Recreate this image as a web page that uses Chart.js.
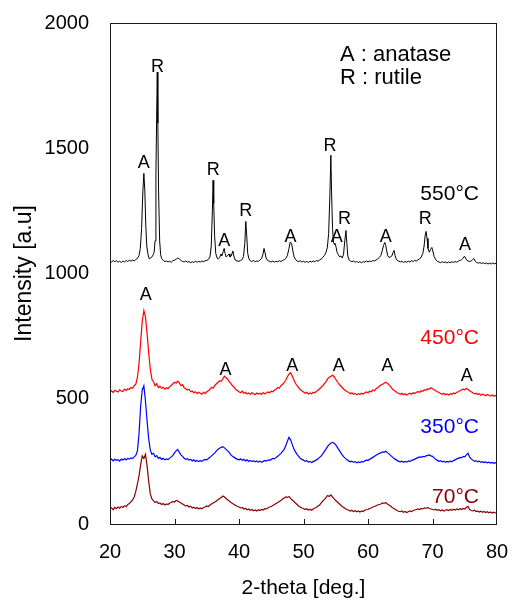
<!DOCTYPE html>
<html>
<head>
<meta charset="utf-8">
<script src="https://cdn.jsdelivr.net/npm/chart.js@4.4.0/dist/chart.umd.min.js"></script>
<style>
  html, body { margin: 0; padding: 0; background: #fff; overflow: hidden; }
  #xrd { display: block; }
</style>
</head>
<body>
<canvas id="xrd" width="522" height="603"></canvas>
<script>
// 2-theta sampling of the three low-temperature scans
const THETA_START = 20;
const THETA_STEP = 0.25;

// 450 °C scan, one value per 0.25 deg from 20 to 80
const scan450 = [
  528,532,525,534,530,527,536,531,529,538,533,540,537,545,542,552,558,585,640,725,
  810,852,826,760,682,618,578,568,552,560,545,550,541,546,538,544,540,548,553,560,
  566,562,570,563,552,556,544,540,535,538,528,531,524,528,520,526,522,518,526,521,
  528,532,538,546,542,553,560,566,572,570,580,590,584,578,568,560,552,546,537,533,
  528,524,530,522,526,519,523,518,524,520,516,523,519,522,517,525,520,523,527,524,
  530,528,535,538,545,542,552,558,564,574,588,598,604,592,576,562,552,544,536,532,
  527,522,526,519,523,520,526,524,530,534,540,546,552,560,568,580,586,590,594,588,
  578,568,558,552,545,538,533,528,526,520,524,518,521,516,520,518,522,519,524,527,
  524,530,528,535,532,540,544,550,555,558,562,566,562,556,548,540,534,530,524,522,
  518,522,516,520,515,519,522,518,524,521,526,528,526,532,530,536,534,540,538,544,
  540,536,532,528,525,521,518,522,516,519,515,520,518,523,520,526,528,532,535,538,
  536,542,537,532,528,524,520,522,517,520,514,518,516,512,517,514,511,515,510,513,
  510
];

// 350 °C scan
const scan350 = [
  255,259,252,258,254,257,251,259,255,261,256,262,259,264,262,268,274,292,360,470,
  535,552,490,410,340,295,278,282,268,273,262,266,258,262,256,260,257,263,268,274,
  284,292,298,286,276,270,262,258,261,255,258,252,256,250,254,249,253,250,255,258,
  256,262,266,272,278,284,292,298,302,306,309,304,298,292,285,276,270,266,262,258,
  256,260,254,258,252,256,250,254,249,253,248,252,247,251,246,250,254,251,256,254,
  258,262,260,266,270,276,282,290,298,312,330,346,336,318,300,288,278,270,262,258,
  255,250,253,247,250,245,249,252,256,260,266,272,280,290,300,310,318,322,326,322,
  316,306,296,286,276,268,262,256,252,248,251,246,249,244,248,245,250,247,252,255,
  254,258,262,266,270,274,278,282,284,288,286,290,285,280,274,268,262,258,254,250,
  248,251,246,250,247,252,249,254,256,259,262,265,268,266,270,268,272,274,276,272,
  270,264,258,254,250,253,248,251,246,250,247,252,248,253,256,260,262,266,264,270,
  268,276,282,268,260,255,250,253,248,251,246,249,245,248,244,247,243,246,242,245,
  243
];

// 70 °C scan
const scan70 = [
  60,64,57,66,61,68,63,70,66,73,69,78,82,88,96,108,130,160,192,236,
  272,262,278,232,170,120,100,92,86,90,82,84,78,82,76,80,78,84,86,90,
  88,94,92,88,84,80,76,72,74,68,71,64,67,62,66,60,64,61,66,68,
  72,70,76,80,84,88,92,98,102,106,112,108,102,96,92,86,82,78,74,70,
  68,64,66,60,63,57,60,55,58,53,56,52,57,54,58,56,61,60,65,68,
  70,74,78,82,86,90,94,100,104,108,106,110,102,96,90,84,78,72,68,64,
  62,58,61,56,59,55,60,64,66,72,76,84,92,98,106,114,110,116,108,100,
  94,88,82,76,70,66,61,58,55,52,55,50,53,49,52,48,52,50,55,57,
  58,62,64,68,70,73,76,78,80,84,82,86,80,76,72,66,62,58,54,51,
  49,52,47,50,46,49,52,50,54,56,58,60,58,62,60,64,62,66,62,60,
  58,56,59,55,57,53,56,52,55,57,54,58,55,59,56,60,57,61,58,62,
  60,66,70,58,54,52,55,50,52,48,51,47,50,46,49,45,48,44,47,44,
  45
];

// 550 °C scan: [2-theta, intensity], sampled finer across the sharp rutile peaks
const scan550 = [
  [20,1050],[20.25,1046],[20.5,1052],[20.75,1047],[21,1051],[21.25,1045],[21.5,1049],[21.75,1044],
  [22,1050],[22.25,1046],[22.5,1052],[22.75,1048],[23,1053],[23.25,1049],[23.5,1054],[23.75,1050],
  [24,1056],[24.25,1060],[24.5,1072],[24.7,1100],[24.9,1180],[25.1,1330],[25.25,1400],[25.4,1330],
  [25.55,1190],[25.7,1110],[25.9,1075],[26.1,1058],[26.3,1062],[26.5,1066],[26.7,1075],[26.85,1085],
  [26.98,1130],[27.12,1400],[27.23,1620],[27.33,1804],[27.42,1600],[27.53,1330],[27.7,1130],[27.85,1075],
  [28,1060],[28.25,1052],[28.5,1048],[28.75,1050],[29,1046],[29.25,1049],[29.5,1045],[29.75,1051],
  [30,1053],[30.25,1057],[30.5,1062],[30.75,1058],[31,1052],[31.25,1048],[31.5,1046],[31.75,1050],
  [32,1045],[32.25,1048],[32.5,1043],[32.75,1047],[33,1044],[33.25,1049],[33.5,1045],[33.75,1048],
  [34,1046],[34.25,1050],[34.5,1047],[34.75,1051],[35,1052],[35.25,1056],[35.5,1066],[35.7,1110],
  [35.87,1250],[35.98,1372],[36.08,1280],[36.22,1150],[36.4,1080],[36.6,1062],[36.8,1058],[37,1064],
  [37.2,1078],[37.35,1070],[37.55,1088],[37.7,1100],[37.85,1080],[38,1066],[38.2,1070],[38.45,1078],
  [38.6,1066],[38.8,1070],[39.05,1090],[39.2,1070],[39.4,1054],[39.7,1050],[40,1049],[40.25,1052],
  [40.5,1056],[40.7,1068],[40.9,1120],[41.05,1208],[41.2,1150],[41.35,1080],[41.55,1058],[41.8,1050],
  [42,1048],[42.25,1052],[42.5,1047],[42.75,1050],[43,1048],[43.25,1054],[43.5,1060],[43.7,1075],
  [43.88,1100],[44.05,1082],[44.2,1062],[44.45,1052],[44.7,1049],[45,1046],[45.25,1050],[45.5,1045],
  [45.75,1049],[46,1047],[46.25,1051],[46.5,1048],[46.75,1052],[47,1055],[47.25,1060],[47.5,1072],
  [47.75,1100],[47.95,1126],[48.15,1120],[48.35,1090],[48.55,1066],[48.8,1055],[49,1050],[49.25,1047],
  [49.5,1051],[49.75,1046],[50,1049],[50.25,1045],[50.5,1048],[50.75,1044],[51,1049],[51.25,1046],
  [51.5,1050],[51.75,1047],[52,1052],[52.25,1049],[52.5,1054],[52.75,1058],[53,1064],[53.25,1072],
  [53.5,1085],[53.7,1105],[53.9,1160],[54.1,1320],[54.24,1472],[54.35,1330],[54.5,1180],[54.65,1125],
  [54.8,1115],[54.9,1120],[55.05,1105],[55.2,1085],[55.4,1075],[55.6,1066],[55.8,1070],[56,1062],
  [56.2,1075],[56.4,1130],[56.58,1172],[56.72,1120],[56.87,1070],[57.05,1055],[57.3,1050],[57.5,1047],
  [57.75,1050],[58,1045],[58.25,1048],[58.5,1044],[58.75,1047],[59,1043],[59.25,1048],[59.5,1045],
  [59.75,1050],[60,1046],[60.25,1050],[60.5,1047],[60.75,1052],[61,1050],[61.25,1054],[61.5,1058],
  [61.75,1064],[62,1072],[62.2,1090],[62.4,1112],[62.6,1124],[62.75,1112],[62.9,1090],[63.05,1072],
  [63.25,1064],[63.45,1066],[63.7,1070],[63.9,1085],[64.05,1092],[64.2,1072],[64.4,1056],[64.7,1050],
  [65,1046],[65.25,1049],[65.5,1044],[65.75,1048],[66,1045],[66.25,1049],[66.5,1046],[66.75,1051],
  [67,1048],[67.25,1052],[67.5,1050],[67.75,1055],[68,1058],[68.25,1066],[68.5,1080],[68.7,1110],
  [68.85,1150],[69,1168],[69.15,1140],[69.3,1100],[69.5,1085],[69.7,1096],[69.9,1104],[70.05,1090],
  [70.25,1068],[70.5,1055],[70.75,1049],[71,1046],[71.25,1043],[71.5,1047],[71.75,1044],[72,1046],
  [72.25,1042],[72.5,1046],[72.75,1043],[73,1047],[73.25,1044],[73.5,1048],[73.75,1045],[74,1049],
  [74.25,1052],[74.5,1055],[74.7,1060],[74.9,1068],[75.05,1066],[75.25,1055],[75.5,1050],[75.75,1048],
  [76,1050],[76.2,1055],[76.4,1060],[76.6,1050],[76.85,1044],[77.1,1041],[77.35,1044],[77.6,1040],
  [77.85,1043],[78.1,1039],[78.35,1042],[78.6,1038],[78.85,1041],[79.1,1038],[79.35,1042],[79.6,1039],
  [79.85,1040],[80,1038]
];

// phase marks: A = anatase, R = rutile (2-theta, baseline intensity)
const phaseMarks = [
  ['A', 25.24, 1423], ['R', 27.36, 1803], ['R', 36.0, 1393], ['A', 37.7, 1109],
  ['R', 41.06, 1229], ['A', 47.98, 1127], ['R', 54.1, 1489], ['A', 55.14, 1127],
  ['R', 56.36, 1196], ['A', 62.74, 1127], ['R', 68.89, 1196], ['A', 75.04, 1093],
  ['A', 25.53, 896], ['A', 37.9, 596], ['A', 48.24, 609], ['A', 55.45, 609],
  ['A', 63.02, 609], ['A', 75.3, 569]
];

// curve names, their colours and where the name sits (right edge at 77.2 deg)
const tempNames  = ['550\u00B0C', '450\u00B0C', '350\u00B0C', '70\u00B0C'];
const tempColors = ['#000000', '#ff0000', '#0000ff', '#8b0000'];
const tempLabelY = [1292, 720, 364, 84];

const keyLines = ['A : anatase', 'R : rutile'];

const xTicks = [20, 30, 40, 50, 60, 70, 80];
const yTicks = [0, 500, 1000, 1500, 2000];

const FONT = '"Liberation Sans", Arial, sans-serif';

function onGrid(values) {
  return values.map((v, i) => ({ x: THETA_START + i * THETA_STEP, y: v }));
}

const overlay = {
  id: 'overlay',
  afterDatasetsDraw(chart) {
    const { ctx, chartArea: a, scales: { x, y } } = chart;
    ctx.save();

    // box around the plot
    ctx.strokeStyle = '#1a1a1a';
    ctx.lineWidth = 1;
    ctx.strokeRect(a.left + 0.5, a.top + 0.5, a.right - a.left - 1, a.bottom - a.top);

    // short inward ticks on the 2-theta axis
    ctx.beginPath();
    x.ticks.forEach(t => {
      if (t.value <= x.min || t.value >= x.max) return;
      const px = Math.round(x.getPixelForValue(t.value)) + 0.5;
      ctx.moveTo(px, a.bottom);
      ctx.lineTo(px, a.bottom - 5);
    });
    ctx.stroke();

    ctx.textBaseline = 'alphabetic';
    ctx.fillStyle = '#000';
    ctx.textAlign = 'center';
    ctx.font = '18px ' + FONT;
    phaseMarks.forEach(([t, tx, ty]) => {
      ctx.fillText(t, x.getPixelForValue(tx), y.getPixelForValue(ty));
    });

    ctx.textAlign = 'right';
    ctx.font = '21px ' + FONT;
    tempNames.forEach((name, i) => {
      ctx.fillStyle = tempColors[i];
      ctx.fillText(name, x.getPixelForValue(77.2), y.getPixelForValue(tempLabelY[i]));
    });

    ctx.textAlign = 'left';
    ctx.fillStyle = '#000';
    ctx.font = '22px ' + FONT;
    ctx.fillText(keyLines[0], x.getPixelForValue(55.66), y.getPixelForValue(1849));
    ctx.fillText(keyLines[1], x.getPixelForValue(55.66), y.getPixelForValue(1756));

    ctx.restore();
  }
};

const series = [
  scan550.map(([t, v]) => ({ x: t, y: v })),
  onGrid(scan450),
  onGrid(scan350),
  onGrid(scan70)
];

new Chart(document.getElementById('xrd'), {
  type: 'line',
  data: {
    datasets: series.map((pts, i) => ({
      label: tempNames[i],
      data: pts,
      borderColor: tempColors[i],
      borderWidth: i === 0 ? 1 : 1.2,
      pointRadius: 0,
      tension: 0,
      fill: false
    }))
  },
  options: {
    responsive: false,
    animation: false,
    devicePixelRatio: 1,
    layout: { padding: { left: 0, right: 25, top: 23, bottom: 0 } },
    plugins: { legend: { display: false }, tooltip: { enabled: false } },
    scales: {
      x: {
        type: 'linear',
        min: 20,
        max: 80,
        afterFit: s => { s.height = 79; s.paddingLeft = 0; s.paddingRight = 0; },
        afterBuildTicks: s => { s.ticks = xTicks.map(v => ({ value: v })); },
        grid: { display: false, drawTicks: false },
        border: { display: false },
        ticks: { padding: 16, color: '#000', font: { family: FONT, size: 20 } },
        title: {
          display: true,
          text: '2-theta [deg.]',
          color: '#000',
          font: { family: FONT, size: 21, lineHeight: 1.2 },
          padding: { top: 0, bottom: 2 }
        }
      },
      y: {
        min: 0,
        max: 2000,
        afterFit: s => { s.width = 110; s.paddingTop = 0; s.paddingBottom = 0; },
        afterBuildTicks: s => { s.ticks = yTicks.map(v => ({ value: v })); },
        grid: { display: false, drawTicks: false },
        border: { display: false },
        ticks: {
          padding: 21,
          color: '#000',
          font: { family: FONT, size: 20 },
          callback: v => String(v)
        },
        title: {
          display: true,
          text: 'Intensity [a.u]',
          color: '#000',
          font: { family: FONT, size: 23, lineHeight: 1.2 },
          padding: { top: 11, bottom: 0 }
        }
      }
    }
  },
  plugins: [overlay]
});
</script>
</body>
</html>
